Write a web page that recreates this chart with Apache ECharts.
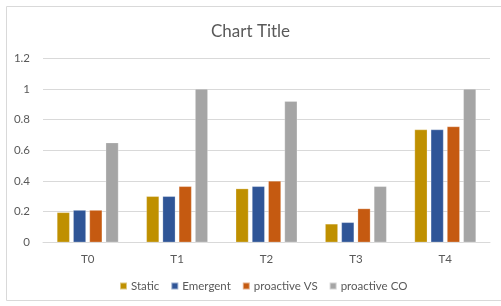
<!DOCTYPE html>
<html>
<head>
<meta charset="utf-8">
<script src="https://cdn.jsdelivr.net/npm/echarts@6/dist/echarts.min.js"></script>
<style>
html, body {margin: 0; padding: 0; background: #fff;}
#chart {width: 501px; height: 306px;}
</style>
</head>
<body>
<div id="chart"></div>
<script>
let categories = ['T0', 'T1', 'T2', 'T3', 'T4'];
let seriesNames = ['Static', 'Emergent', 'proactive VS', 'proactive CO'];
let staticVals = [0.195, 0.30, 0.35, 0.12, 0.735];
let emergentVals = [0.21, 0.30, 0.365, 0.13, 0.735];
let vsVals = [0.21, 0.365, 0.40, 0.22, 0.755];
let coVals = [0.65, 1.0, 0.92, 0.365, 1.0];
let yTicks = [0, 0.2, 0.4, 0.6, 0.8, 1, 1.2];
let colors = ['#bf9000', '#2f5597', '#c55a11', '#a5a5a5'];

let font = 'Lato, "Open Sans", sans-serif';
let chart = echarts.init(document.getElementById('chart'));

let allVals = [staticVals, emergentVals, vsVals, coVals];
let series = allVals.map(function (vals, i) {
    return {
        name: seriesNames[i],
        type: 'bar',
        data: vals,
        barWidth: 12.7,
        barGap: '28%',
        itemStyle: {color: colors[i], borderColor: 'rgba(255,255,255,0.5)', borderWidth: 0.5}
    };
});

chart.setOption({
    animation: false,
    color: colors,
    title: {
        text: 'Chart Title', left: 'center', top: 18,
        textStyle: {fontFamily: font, fontSize: 17, fontWeight: 'normal', color: '#595959'}
    },
    graphic: [{
        type: 'rect', shape: {x: 6.5, y: 6.5, width: 500, height: 294},
        style: {fill: 'none', stroke: '#d9d9d9', lineWidth: 1}, silent: true
    }],
    legend: {
        data: seriesNames, bottom: 9, left: 114,
        icon: 'rect', itemWidth: 7, itemHeight: 7, itemGap: 11,
        textStyle: {fontFamily: font, fontSize: 11.5, color: '#595959', padding: [0, 0, 0, -1]}
    },
    grid: {left: 43, right: 11, top: 58.3, bottom: 63.7, containLabel: false},
    xAxis: {
        type: 'category', data: categories,
        axisLine: {lineStyle: {color: '#d9d9d9'}},
        axisTick: {show: false},
        axisLabel: {fontFamily: font, fontSize: 11.5, color: '#595959', margin: 11}
    },
    yAxis: {
        type: 'value', min: yTicks[0], max: yTicks[yTicks.length - 1], interval: 0.2,
        axisLine: {show: false}, axisTick: {show: false},
        splitLine: {lineStyle: {color: '#d9d9d9'}},
        axisLabel: {fontFamily: font, fontSize: 11.5, color: '#595959', margin: 13,
            formatter: function (v) { return String(Math.round(v * 10) / 10); }}
    },
    series: series
});
</script>
</body>
</html>
